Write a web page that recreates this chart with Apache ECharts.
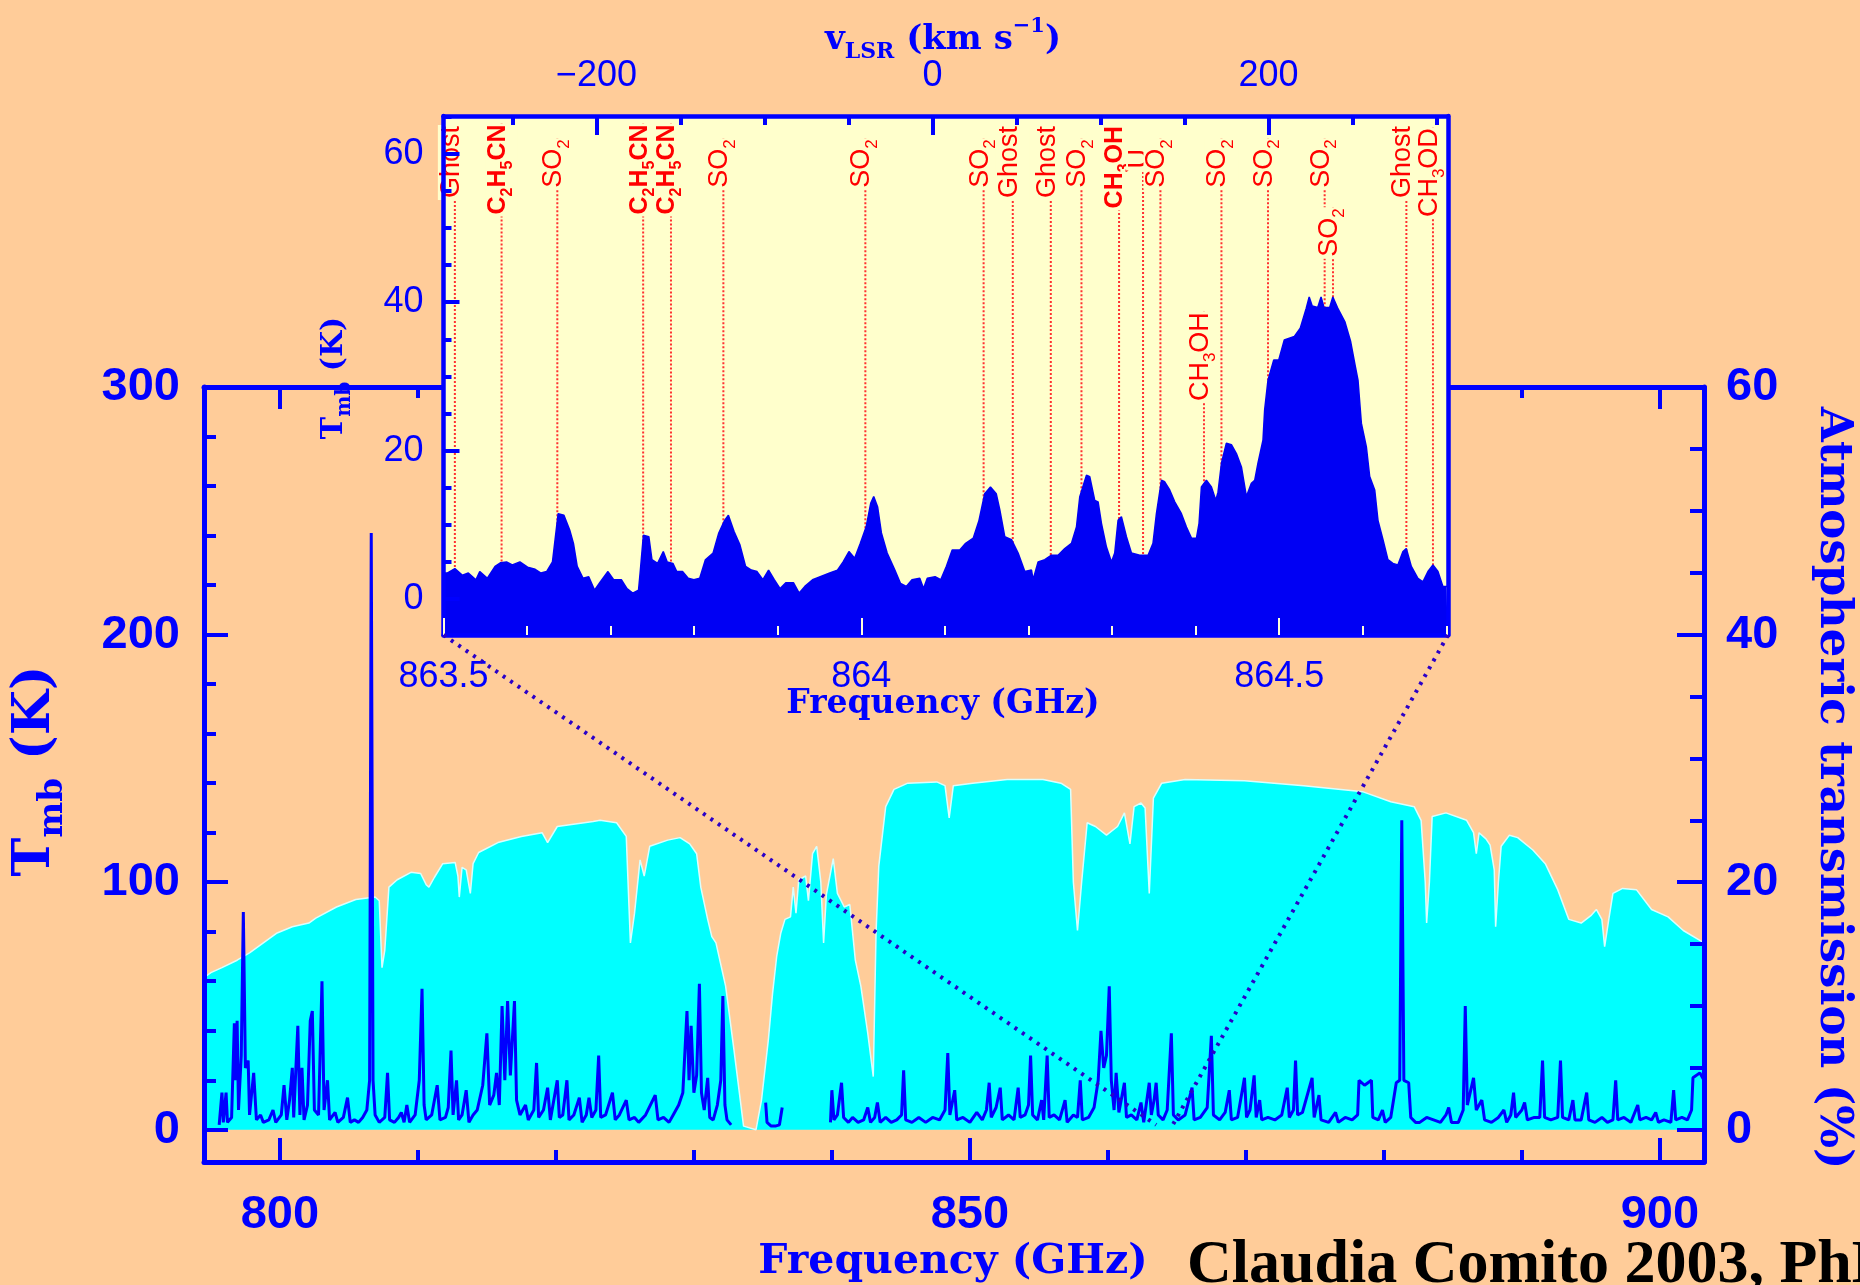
<!DOCTYPE html>
<html>
<head>
<meta charset="utf-8">
<title>Espectro 800-900 GHz</title>
<script src="https://cdn.jsdelivr.net/npm/echarts@6.0.0/dist/echarts.min.js"></script>
<style>
  html, body { margin: 0; padding: 0; background: #ffcc99; overflow: hidden; }
  #grafico { width: 1860px; height: 1285px; }
</style>
</head>
<body>
<div id="grafico"></div>
<script>
// ticks e rotulos do grafico principal
const ticksFreq = [800, 810, 820, 830, 840, 850, 860, 870, 880, 890, 900];
const ticksFreqMaior = [800, 850, 900];
const rotulosFreq = [800, 850, 900];
const ticksTmb = [0, 20, 40, 60, 80, 100, 120, 140, 160, 180, 200, 220, 240, 260, 280, 300];
const ticksTmbMaior = [0, 100, 200, 300];
const rotulosTmb = [0, 100, 200, 300];
const ticksAtm = [0, 5, 10, 15, 20, 25, 30, 35, 40, 45, 50, 55, 60];
const ticksAtmMaior = [0, 20, 40, 60];
const rotulosAtm = [0, 20, 40, 60];

// ticks e rotulos do detalhe
const ticksInsetFreq = [863.5, 863.6, 863.7, 863.8, 863.9, 864, 864.1, 864.2, 864.3, 864.4, 864.5, 864.6, 864.7];
const ticksInsetFreqMaior = [863.5, 864, 864.5];
const rotulosInsetFreq = [863.5, 864, 864.5];
const ticksVlsr = [-250, -200, -150, -100, -50, 0, 50, 100, 150, 200, 250, 300];
const ticksVlsrMaior = [-200, 0, 200];
const rotulosVlsr = [-200, 0, 200];
const ticksInsetT = [0, 5, 10, 15, 20, 25, 30, 35, 40, 45, 50, 55, 60, 65];
const ticksInsetTMaior = [0, 20, 40, 60];
const rotulosInsetT = [0, 20, 40, 60];

// transmissao atmosferica (GHz, %)
const transmissao = [
  [794.5, 12.3], [795.0, 12.7], [795.8, 13.1], [796.9, 13.7], [797.8, 14.3], [798.8, 15.1], [799.8, 15.9],
  [800.9, 16.4], [802.1, 16.7], [802.6, 17.1], [804.1, 18.0], [805.5, 18.6], [806.9, 18.8], [807.2, 18.5],
  [807.4, 13.1], [807.6, 14.5], [807.9, 19.6], [808.5, 20.2], [809.5, 20.8], [810.2, 20.7], [810.6, 19.8],
  [810.8, 19.6], [811.2, 20.4], [811.8, 21.5], [812.7, 21.6], [812.9, 20.5], [813.0, 18.8], [813.2, 21.2],
  [813.5, 21.0], [813.8, 19.1], [814.0, 21.5], [814.4, 22.4], [815.8, 23.2], [817.5, 23.7], [819.0, 24.0],
  [819.4, 23.2], [820.1, 24.5], [822.7, 24.9], [823.2, 25.0], [824.4, 24.8], [825.1, 23.7], [825.4, 15.1],
  [825.7, 17.5], [826.1, 21.8], [826.4, 20.5], [826.8, 22.9], [828.1, 23.4], [829.0, 23.6], [829.7, 23.1],
  [830.2, 22.3], [830.5, 19.6], [831.0, 17.0], [831.3, 15.6], [831.6, 15.1], [832.3, 11.6], [832.9, 6.5],
  [833.6, 0.3], [834.5, 0], [834.9, 2.4], [835.4, 7.3], [835.7, 11.0], [836.0, 14.0], [836.3, 15.9],
  [836.6, 17.0], [837.0, 17.2], [837.2, 19.6], [837.4, 17.5], [837.6, 20.2], [838.1, 20.5], [838.3, 18.5],
  [838.6, 22.3], [838.9, 22.9], [839.2, 20.0], [839.4, 15.1], [839.6, 19.0], [840.1, 21.9], [840.4, 19.1],
  [840.9, 18.0], [841.3, 18.2], [841.7, 13.7], [842.1, 11.6], [842.6, 7.8], [843.0, 4.3], [843.2, 15.9],
  [843.4, 21.3], [843.9, 26.1], [844.5, 27.5], [845.5, 28.0], [847.6, 28.1], [848.2, 27.8], [848.5, 25.2],
  [848.8, 27.8], [850.2, 28.0], [852.7, 28.3], [855.3, 28.3], [856.6, 28.0], [857.3, 27.5], [857.5, 20.0],
  [857.8, 16.1], [858.1, 20.0], [858.5, 24.8], [859.1, 24.5], [859.9, 23.8], [860.7, 24.5], [861.2, 25.6],
  [861.6, 23.1], [861.9, 26.1], [862.4, 26.4], [862.7, 26.0], [863.0, 19.1], [863.3, 26.8], [863.9, 28.0],
  [865.6, 28.3], [869.9, 28.2], [874.2, 27.8], [878.5, 27.3], [880.5, 26.5], [882.2, 26.1], [882.7, 25.0],
  [883.0, 20.0], [883.1, 16.7], [883.3, 20.0], [883.5, 25.3], [884.5, 25.6], [886.0, 25.0], [886.5, 24.0],
  [886.7, 22.3], [886.9, 24.0], [887.4, 23.5], [887.7, 23.0], [888.0, 21.0], [888.1, 16.4], [888.3, 20.0],
  [888.5, 22.9], [889.1, 23.8], [889.7, 23.6], [890.8, 22.6], [891.7, 21.5], [892.6, 19.4], [893.4, 17.0],
  [894.3, 16.7], [895.0, 17.3], [895.4, 17.8], [895.8, 17.0], [896.0, 14.8], [896.3, 17.0], [896.6, 19.1],
  [897.3, 19.5], [898.3, 19.4], [899.4, 17.8], [900.6, 17.2], [901.7, 16.1], [902.9, 15.3], [903.2, 15.1]
];

// espectro Tmb 795-903 GHz (GHz, K); '-' marca as falhas
const espectroTmb = [
  [795.6, 2], [795.8, 15], [795.9, 3], [796.1, 15], [796.2, 3], [796.5, 5], [796.7, 43], [796.8, 20], [796.9, 44],
  [797.0, 8], [797.2, 30], [797.35, 88], [797.5, 25], [797.7, 28], [797.8, 6], [798.1, 23], [798.3, 4], [798.6, 6],
  [798.8, 3], [799.2, 4], [799.5, 8], [799.7, 3], [800.1, 6], [800.3, 18], [800.5, 4], [800.7, 12], [800.9, 25],
  [801.0, 5], [801.2, 30], [801.3, 42], [801.45, 6], [801.6, 25], [801.75, 4], [802.0, 10], [802.2, 44], [802.35, 48],
  [802.5, 8], [802.8, 6], [803.05, 60], [803.2, 8], [803.45, 20], [803.6, 4], [804.0, 7], [804.2, 3], [804.6, 5],
  [804.9, 13], [805.1, 3], [805.4, 4], [805.7, 3], [806.0, 5], [806.3, 8], [806.5, 20], [806.62, 241], [806.75, 20],
  [806.9, 6], [807.2, 3], [807.6, 5], [807.8, 23], [807.95, 4], [808.3, 3], [808.6, 5], [808.8, 7], [809.0, 3],
  [809.2, 10], [809.4, 3], [809.8, 6], [810.1, 20], [810.3, 57], [810.45, 10], [810.6, 4], [811.0, 6], [811.4, 18],
  [811.6, 4], [812.0, 5], [812.2, 9], [812.4, 32], [812.55, 6], [812.8, 20], [812.95, 4], [813.2, 6], [813.5, 16],
  [813.7, 3], [814.0, 6], [814.3, 8], [814.7, 18], [815.0, 39], [815.2, 10], [815.5, 14], [815.7, 23], [815.9, 10],
  [816.1, 50], [816.3, 20], [816.5, 52], [816.7, 22], [817.0, 52], [817.15, 12], [817.4, 6], [817.8, 10], [818.0, 4],
  [818.4, 8], [818.6, 27], [818.75, 5], [819.1, 8], [819.4, 17], [819.6, 4], [820.1, 20], [820.25, 5], [820.5, 6],
  [820.8, 20], [820.95, 4], [821.3, 6], [821.7, 13], [821.9, 3], [822.2, 6], [822.4, 13], [822.6, 5], [822.9, 8],
  [823.1, 30], [823.25, 5], [823.6, 6], [824.1, 15], [824.3, 4], [824.6, 6], [825.1, 12], [825.3, 4], [825.7, 5],
  [826.0, 3], [826.5, 6], [827.2, 14], [827.4, 4], [827.8, 5], [828.2, 3], [828.5, 6], [828.9, 10], [829.2, 15],
  [829.5, 48], [829.65, 20], [829.8, 42], [830.0, 15], [830.2, 22], [830.4, 59], [830.55, 15], [830.75, 8],
  [831.0, 21], [831.15, 5], [831.4, 4], [831.7, 10], [831.95, 20], [832.1, 54], [832.25, 10], [832.4, 4], [832.7, 2],
  [833.0, '-'],
  [835.2, 11], [835.3, 3], [835.6, 1.5], [835.9, 1.5], [836.2, 2], [836.4, 9],
  [838.0, '-'],
  [839.9, 3], [840.0, 16], [840.15, 4], [840.4, 6], [840.7, 19], [840.85, 5], [841.2, 3], [841.5, 5], [841.9, 3],
  [842.3, 4], [842.6, 9], [842.8, 3], [843.1, 5], [843.3, 11], [843.5, 3], [843.9, 5], [844.3, 3], [844.7, 4],
  [845.05, 6], [845.2, 24], [845.35, 4], [845.8, 3], [846.3, 5], [846.8, 3], [847.3, 5], [847.8, 4], [848.2, 8],
  [848.4, 31], [848.55, 6], [848.9, 16], [849.05, 4], [849.5, 5], [850.0, 3], [850.5, 7], [850.9, 4], [851.2, 8],
  [851.4, 19], [851.55, 5], [851.9, 9], [852.2, 17], [852.35, 4], [852.8, 6], [853.2, 4], [853.5, 17], [853.65, 5],
  [854.0, 6], [854.25, 10], [854.4, 30], [854.55, 6], [854.9, 4], [855.2, 12], [855.35, 4], [855.6, 30], [855.75, 5],
  [856.1, 6], [856.5, 4], [856.9, 12], [857.05, 3], [857.5, 6], [857.8, 5], [858.0, 20], [858.15, 4], [858.6, 5],
  [859.0, 9], [859.3, 20], [859.5, 40], [859.7, 25], [859.9, 30], [860.1, 58], [860.25, 20], [860.45, 8], [860.6, 23],
  [860.8, 7], [861.2, 19], [861.35, 5], [861.7, 6], [862.1, 4], [862.4, 11], [862.6, 3], [863.0, 19], [863.15, 6],
  [863.35, 12], [863.5, 19], [863.65, 6], [864.0, 4], [864.3, 8], [864.6, 39], [864.75, 6], [865.1, 4], [865.6, 6],
  [866.1, 17], [866.25, 4], [866.7, 5], [867.2, 9], [867.5, 38], [867.65, 6], [868.1, 4], [868.5, 7], [868.8, 16],
  [868.95, 4], [869.4, 5], [869.9, 21], [870.05, 5], [870.3, 8], [870.6, 22], [870.75, 5], [871.0, 12], [871.15, 4],
  [871.6, 5], [872.1, 4], [872.6, 6], [873.0, 17], [873.15, 5], [873.45, 8], [873.6, 28], [873.75, 6], [874.1, 7],
  [874.8, 21], [874.95, 5], [875.3, 14], [875.45, 4], [876.0, 3], [876.5, 7], [876.7, 3], [877.2, 5], [877.7, 4],
  [878.1, 6], [878.2, 20], [878.6, 18], [879.1, 20], [879.2, 5], [879.6, 4], [879.9, 8], [880.1, 3], [880.5, 5],
  [880.9, 19], [881.15, 20], [881.3, 125], [881.45, 20], [881.8, 19], [881.95, 5], [882.3, 3], [882.6, 3], [883.1, 5],
  [883.6, 4], [884.1, 3], [884.5, 6], [884.7, 9], [884.9, 3], [885.4, 3], [885.75, 8], [885.9, 50], [886.05, 10],
  [886.5, 21], [886.7, 8], [887.1, 12], [887.3, 4], [887.8, 3], [888.3, 5], [888.7, 8], [888.9, 3], [889.2, 6],
  [889.4, 15], [889.55, 5], [890.0, 8], [890.2, 11], [890.4, 4], [890.9, 5], [891.3, 5], [891.5, 28], [891.65, 5],
  [892.1, 4], [892.6, 5], [892.8, 28], [892.95, 5], [893.4, 4], [893.7, 12], [893.85, 4], [894.3, 4], [894.7, 15],
  [894.85, 4], [895.3, 3], [895.8, 5], [896.2, 3], [896.6, 4], [896.8, 20], [896.95, 4], [897.4, 5], [897.9, 3],
  [898.4, 10], [898.55, 4], [899.0, 5], [899.4, 4], [899.7, 7], [899.9, 3], [900.3, 4], [900.8, 3], [901.0, 16],
  [901.15, 4], [901.6, 5], [902.0, 4], [902.3, 8], [902.4, 21], [902.9, 23], [903.2, 20]
];

// espectro do detalhe 863.5-864.7 GHz (GHz, K)
const espectroInset = [
  [863.5, 3.5], [863.5044, 3.5], [863.5136, 4.1], [863.5227, 3.2], [863.5297, 3.5], [863.5388, 2.6], [863.5434, 3.7],
  [863.5525, 2.8], [863.5617, 4.4], [863.5685, 4.9], [863.5754, 5.0], [863.5823, 4.6], [863.5914, 5.0], [863.6006, 4.3],
  [863.6097, 4.0], [863.6166, 3.5], [863.6234, 3.7], [863.6304, 5.0], [863.6372, 11.5], [863.6441, 11.3], [863.6510, 9.3],
  [863.6555, 7.5], [863.6600, 4.4], [863.6670, 2.8], [863.6738, 3.0], [863.6807, 1.2], [863.6876, 2.3], [863.6968, 3.7],
  [863.7036, 2.6], [863.7128, 2.6], [863.7196, 1.4], [863.7264, 0.8], [863.7334, 1.2], [863.7356, 3.9], [863.7392, 8.6],
  [863.7457, 8.4], [863.7494, 5.3], [863.7562, 4.8], [863.7630, 6.4], [863.7677, 5.0], [863.7745, 4.8], [863.7791, 3.7],
  [863.7860, 3.7], [863.7928, 2.8], [863.7996, 2.6], [863.8066, 2.8], [863.8134, 5.3], [863.8226, 6.2], [863.8294, 8.9],
  [863.8364, 10.6], [863.8409, 11.3], [863.8477, 9.1], [863.8547, 7.3], [863.8615, 4.4], [863.8684, 3.9], [863.8752, 3.7],
  [863.8822, 2.6], [863.8890, 3.9], [863.8958, 2.6], [863.9028, 1.4], [863.9096, 2.2], [863.9187, 2.2], [863.9256, 0.8],
  [863.9324, 1.7], [863.9416, 2.6], [863.9508, 3.0], [863.9622, 3.5], [863.9714, 3.9], [863.9782, 5.0], [863.9852, 6.4],
  [863.9920, 5.5], [863.9988, 7.5], [864.0057, 9.7], [864.0112, 12.9], [864.0148, 13.8], [864.0195, 12.4], [864.0240, 8.9],
  [864.0309, 6.2], [864.0401, 3.9], [864.0469, 2.1], [864.0538, 1.7], [864.0606, 2.6], [864.0699, 2.8], [864.0744, 1.4],
  [864.0789, 2.8], [864.0882, 3.0], [864.0950, 2.6], [864.1018, 4.4], [864.1087, 6.6], [864.1178, 6.6], [864.1248, 7.5],
  [864.1339, 8.2], [864.1408, 10.6], [864.1476, 14.2], [864.1545, 15.1], [864.1614, 14.2], [864.1657, 12.0], [864.1716, 8.4],
  [864.1797, 8.0], [864.1876, 6.2], [864.1956, 3.7], [864.2036, 3.9], [864.2055, 2.6], [864.2115, 5.0], [864.2195, 5.3],
  [864.2275, 5.9], [864.2354, 5.9], [864.2434, 6.8], [864.2514, 7.5], [864.2574, 9.7], [864.2614, 13.8], [864.2694, 16.7],
  [864.2733, 16.5], [864.2793, 13.3], [864.2833, 13.1], [864.2873, 10.2], [864.2933, 7.0], [864.2993, 5.0], [864.3032, 6.2],
  [864.3072, 10.6], [864.3112, 11.1], [864.3172, 8.4], [864.3232, 6.2], [864.3331, 5.9], [864.3431, 5.9], [864.3490, 7.5],
  [864.3531, 11.5], [864.3591, 16.0], [864.3630, 15.8], [864.3690, 14.7], [864.3750, 13.1], [864.3830, 11.5], [864.3890, 9.7],
  [864.3950, 8.2], [864.4010, 8.2], [864.4041, 10.2], [864.4069, 15.1], [864.4129, 16.0], [864.4189, 15.1], [864.4241, 13.3],
  [864.4268, 14.4], [864.4309, 18.3], [864.4368, 21.0], [864.4428, 20.8], [864.4488, 19.6], [864.4548, 17.8], [864.4608, 13.8],
  [864.4667, 15.6], [864.4707, 16.0], [864.4746, 18.3], [864.4806, 21.4], [864.4826, 25.5], [864.4866, 29.5], [864.4934, 32.2],
  [864.4994, 32.2], [864.5061, 34.9], [864.5182, 35.4], [864.5252, 36.5], [864.5324, 39.2], [864.5359, 40.7], [864.5395, 39.5],
  [864.5461, 39.3], [864.5501, 40.7], [864.5536, 39.3], [864.5604, 39.3], [864.5642, 40.7], [864.5700, 39.2], [864.5785, 37.4],
  [864.5855, 34.7], [864.5912, 31.3], [864.5943, 29.5], [864.5983, 23.7], [864.6043, 20.5], [864.6083, 16.5], [864.6143, 14.7],
  [864.6182, 10.6], [864.6242, 8.0], [864.6301, 5.3], [864.6361, 4.8], [864.6421, 4.6], [864.6481, 6.4], [864.6521, 6.8],
  [864.6581, 4.4], [864.6660, 2.8], [864.6720, 2.3], [864.6780, 3.7], [864.6840, 4.6], [864.6900, 3.7], [864.6959, 1.7],
  [864.6999, 1.7], [864.702, 1.7]
];

// identificacao das linhas do detalhe
const freqLinhas = [863.5136, 863.5695, 863.6362, 863.7389, 863.7722, 863.8349, 864.0048, 864.1463, 864.1812, 864.2267,
  864.2634, 864.3084, 864.3371, 864.3579, 864.4100, 864.4309, 864.4866, 864.5544, 864.5644, 864.6522, 864.6840];
const nomesLinhas = ['{n|Ghost}', '{b|C}{bs|2}{b|H}{bs|5}{b|CN}', '{n|SO}{ns|2}', '{b|C}{bs|2}{b|H}{bs|5}{b|CN}',
  '{b|C}{bs|2}{b|H}{bs|5}{b|CN}', '{n|SO}{ns|2}', '{n|SO}{ns|2}', '{n|SO}{ns|2}', '{n|Ghost}', '{n|Ghost}', '{n|SO}{ns|2}',
  '{b|CH}{bs|3}{b|OH}', '{n|U}', '{n|SO}{ns|2}', '{n|CH}{ns|3}{n|OH}', '{n|SO}{ns|2}', '{n|SO}{ns|2}', '{n|SO}{ns|2}',
  '{n|SO}{ns|2}', '{n|Ghost}', '{n|CH}{ns|3}{n|OD}'];
// altura do topo de cada rotulo (em K do eixo do detalhe)
const topoRotulos = [63.9, 64.1, 62.1, 64.1, 64.1, 62.1, 62.1, 62.1, 63.9, 63.9, 62.1, 63.9, 60.8, 62.1, 38.8, 62.1,
  62.1, 62.1, 52.8, 63.9, 63.6];

const azul = '#0000ff';
const vermelho = '#ff0000';
const fonteNum = 'Liberation Sans';
const fonteTit = 'DejaVu Serif';

function eixo(grade, pos, min, max, ticks, compr, extra) {
  return Object.assign({
    type: 'value', gridIndex: grade, position: pos, min: min, max: max,
    z: grade === 0 ? 4 : 9,
    splitLine: { show: false },
    axisLine: { show: false, onZero: false },
    axisTick: { show: true, inside: true, length: compr, customValues: ticks, lineStyle: { color: azul, width: 4 } },
    axisLabel: { show: false }
  }, extra || {});
}
function linhaEixo(w) {
  return { show: true, onZero: false, lineStyle: { color: azul, width: w } };
}
function rotulos(vals, tam, margem, peso, fmt) {
  return { show: true, customValues: vals, color: azul, fontFamily: fonteNum, fontSize: tam, fontWeight: peso,
    margin: margem, formatter: fmt || (v => String(v)) };
}
const tickClaro = (compr) => ({ show: true, inside: true, length: compr, lineStyle: { color: '#ffffd8', width: 2 } });
const menos = v => (v < 0 ? '\u2212' + Math.abs(v) : String(v));

const richLinhas = {
  n: { fontFamily: fonteNum, fontSize: 27, fill: vermelho, verticalAlign: 'bottom', padding: [0, 0, 5, 0] },
  ns: { fontFamily: fonteNum, fontSize: 17, fill: vermelho, verticalAlign: 'bottom' },
  b: { fontFamily: fonteNum, fontWeight: 'bold', fontSize: 25, fill: vermelho, verticalAlign: 'bottom', padding: [0, 0, 5, 0] },
  bs: { fontFamily: fonteNum, fontWeight: 'bold', fontSize: 16, fill: vermelho, verticalAlign: 'bottom' }
};
function richTitulo(tam) {
  return {
    n: { fontFamily: fonteTit, fontWeight: 'bold', fontSize: tam, fill: azul, verticalAlign: 'bottom', padding: [Math.round(tam * 0.2), 0, Math.round(tam * 0.18), 0] },
    s: { fontFamily: fonteTit, fontWeight: 'bold', fontSize: Math.round(tam * 0.66), fill: azul, verticalAlign: 'bottom' },
    u: { fontFamily: fonteTit, fontWeight: 'bold', fontSize: Math.round(tam * 0.62), fill: azul, verticalAlign: 'top' }
  };
}

const grafico = echarts.init(document.getElementById('grafico'));
const dadosLinhas = freqLinhas.map((f, i) => [f, topoRotulos[i], i]);

const option = {
  backgroundColor: '#ffcc99',
  animation: false,
  grid: [
    { left: 204, top: 387, width: 1500, height: 775, show: false },
    { left: 443.5, top: 116, width: 1004.5, height: 519, show: true, backgroundColor: '#ffffcc', borderWidth: 0, z: 5 }
  ],
  xAxis: [
    eixo(0, 'bottom', 794.5, 903.2, ticksFreq, 12, { axisLine: linhaEixo(5), axisLabel: rotulos(rotulosFreq, 47, 30, 'bold') }),
    eixo(0, 'bottom', 794.5, 903.2, ticksFreqMaior, 24),
    eixo(0, 'top', 794.5, 903.2, ticksFreq, 11, { axisLine: linhaEixo(5) }),
    eixo(0, 'top', 794.5, 903.2, ticksFreqMaior, 22),
    eixo(1, 'bottom', 863.5, 864.702, ticksInsetFreq, 9, {
      axisLine: linhaEixo(4.5),
      axisTick: Object.assign(tickClaro(9), { customValues: ticksInsetFreq }),
      axisLabel: rotulos(rotulosInsetFreq, 36, 24, 'normal')
    }),
    eixo(1, 'bottom', 863.5, 864.702, ticksInsetFreqMaior, 17, {
      axisTick: Object.assign(tickClaro(17), { customValues: ticksInsetFreqMaior })
    }),
    eixo(1, 'top', -291, 306.8, ticksVlsr, 9, { axisLine: linhaEixo(4.5), axisLabel: rotulos(rotulosVlsr, 36, 22, 'normal', menos) }),
    eixo(1, 'top', -291, 306.8, ticksVlsrMaior, 19)
  ],
  yAxis: [
    eixo(0, 'left', -13, 300, ticksTmb, 12, { axisLine: linhaEixo(5), axisLabel: rotulos(rotulosTmb, 47, 24, 'bold') }),
    eixo(0, 'left', -13, 300, ticksTmbMaior, 24),
    eixo(0, 'right', -2.6, 60, ticksAtm, 14, { axisLine: linhaEixo(5), axisLabel: rotulos(rotulosAtm, 47, 22, 'bold') }),
    eixo(0, 'right', -2.6, 60, ticksAtmMaior, 27),
    eixo(1, 'left', -4.85, 65.1, ticksInsetT, 8, { axisLine: linhaEixo(4.5), axisLabel: rotulos(rotulosInsetT, 36, 20, 'normal') }),
    eixo(1, 'left', -4.85, 65.1, ticksInsetTMaior, 16),
    eixo(1, 'right', -4.85, 65.1, [], 0, { axisLine: linhaEixo(4.5), axisTick: { show: false } })
  ],
  series: [
    {
      name: 'Transmissao', type: 'line', xAxisIndex: 0, yAxisIndex: 2, data: transmissao,
      showSymbol: false, z: 2, lineStyle: { color: '#d8ffff', width: 1.5 },
      areaStyle: { color: '#00ffff', opacity: 1 }
    },
    {
      name: 'Tmb', type: 'line', xAxisIndex: 0, yAxisIndex: 0, data: espectroTmb,
      showSymbol: false, z: 3, connectNulls: false, lineStyle: { color: azul, width: 3 }
    },
    {
      name: 'Linhas', type: 'custom', xAxisIndex: 4, yAxisIndex: 4, data: dadosLinhas, z: 6,
      renderItem: function (params, api) {
        const topo = api.coord([api.value(0), api.value(1)]);
        const base = api.coord([api.value(0), -4.85]);
        return {
          type: 'group',
          children: [
            { type: 'line', shape: { x1: topo[0], y1: topo[1], x2: topo[0], y2: base[1] },
              style: { stroke: '#ff3030', lineWidth: 2, lineDash: [2, 2] } },
            { type: 'text', x: topo[0], y: topo[1], rotation: Math.PI / 2,
              style: { text: nomesLinhas[api.value(2)], rich: richLinhas, align: 'right', verticalAlign: 'middle',
                backgroundColor: '#ffffcc', padding: [0, 1, 2, 2] } }
          ]
        };
      }
    },
    {
      name: 'Detalhe', type: 'line', xAxisIndex: 4, yAxisIndex: 4, data: espectroInset,
      showSymbol: false, z: 7, lineStyle: { color: '#0000f4', width: 1.5 },
      areaStyle: { color: '#0000f4', opacity: 1, origin: 'start' }
    }
  ]
};
grafico.setOption(option);

// linhas pontilhadas ligando o detalhe ao grafico principal
const cantoEsq = grafico.convertToPixel({ xAxisIndex: 4, yAxisIndex: 4 }, [863.5, -4.85]);
const cantoDir = grafico.convertToPixel({ xAxisIndex: 4, yAxisIndex: 4 }, [864.702, -4.85]);
const pontoEsq = grafico.convertToPixel({ xAxisIndex: 0, yAxisIndex: 0 }, [863.5, 2]);
const pontoDir = grafico.convertToPixel({ xAxisIndex: 0, yAxisIndex: 0 }, [864.702, 2]);
const pontilhado = { stroke: '#2a00c8', lineWidth: 4, lineDash: [3, 6] };

grafico.setOption({
  graphic: [
    { type: 'line', z: 20, shape: { x1: cantoEsq[0], y1: cantoEsq[1], x2: pontoEsq[0], y2: pontoEsq[1] }, style: pontilhado },
    { type: 'line', z: 20, shape: { x1: cantoDir[0], y1: cantoDir[1], x2: pontoDir[0], y2: pontoDir[1] }, style: pontilhado },
    { type: 'text', z: 20, x: 35, y: 771, rotation: Math.PI / 2,
      style: { text: '{n|T}{s|mb}{n| (K)}', rich: richTitulo(52), align: 'center', verticalAlign: 'middle' } },
    { type: 'text', z: 20, x: 1833, y: 788, rotation: -Math.PI / 2,
      style: { text: 'Atmospheric transmission (%)', font: 'bold 45px "DejaVu Serif"', fill: azul, align: 'center', verticalAlign: 'middle' } },
    { type: 'text', z: 20, x: 953, y: 1262,
      style: { text: 'Frequency (GHz)', font: 'bold 41px "DejaVu Serif"', fill: azul, align: 'center', verticalAlign: 'middle' } },
    { type: 'text', z: 20, x: 943, y: 704,
      style: { text: 'Frequency (GHz)', font: 'bold 33px "DejaVu Serif"', fill: azul, align: 'center', verticalAlign: 'middle' } },
    { type: 'text', z: 20, x: 334, y: 378, rotation: Math.PI / 2,
      style: { text: '{n|T}{s|mb}{n| (K)}', rich: richTitulo(30), align: 'center', verticalAlign: 'middle' } },
    { type: 'text', z: 20, x: 943, y: 40,
      style: { text: '{n|v}{s|LSR}{n| (km s}{u|\u22121}{n|)}', rich: richTitulo(34), align: 'center', verticalAlign: 'middle' } },
    { type: 'text', z: 20, x: 1187, y: 1297,
      style: { text: 'Claudia Comito 2003, PhD', font: 'bold 62px "Liberation Serif"', fill: '#000000', align: 'left', verticalAlign: 'bottom' } }
  ]
});
</script>
</body>
</html>
